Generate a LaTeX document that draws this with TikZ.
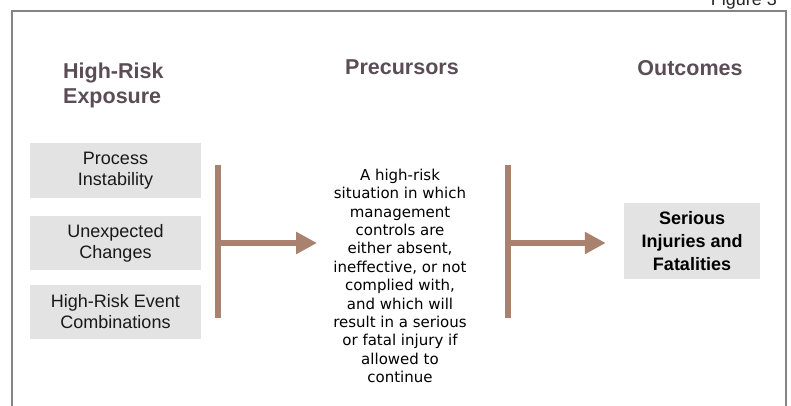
\documentclass[tikz,border=0pt]{standalone}
\usepackage{fontspec}
\setmainfont{Liberation Sans}
\newfontfamily\verdfont{DejaVu Sans}
\usetikzlibrary{arrows.meta}
\definecolor{framegray}{HTML}{858585}
\definecolor{headcol}{HTML}{5B4D55}
\definecolor{boxfill}{HTML}{E3E3E3}
\definecolor{arrowcol}{HTML}{A8826F}
\begin{document}
\begin{tikzpicture}[x=1pt,y=-1pt,
  header/.style={font=\fontsize{21.5}{25}\selectfont\bfseries, text=headcol, inner sep=0},
  riskbox/.style={fill=boxfill, minimum width=171pt, minimum height=54pt, inner sep=0, align=center, text=black!90, font=\fontsize{18}{21}\selectfont},
  outbox/.style={fill=boxfill, minimum width=136pt, minimum height=76pt, inner sep=0, align=center, text=black, font=\fontsize{18}{22.8}\selectfont\bfseries},
  bar/.style={draw=arrowcol, line width=6pt},
  flow/.style={draw=arrowcol, line width=6pt, -{Triangle[length=21pt,width=21pt]}}]
\useasboundingbox (0,0) rectangle (791,406);
\draw[framegray, line width=1.5pt] (12,412) -- (12,11) -- (786,11) -- (786,412);
\node[anchor=base east, font=\fontsize{18}{20}\selectfont, text=black!85, inner sep=0] (fig) at (777,6) {Figure 3};
% headers
\node[header, anchor=west, align=left] (h1) at (63,85) {High-Risk\\Exposure};
\node[header, anchor=base] (h2) at (402,75) {Precursors};
\node[header, anchor=base] (h3) at (690,76) {Outcomes};
% left boxes
\node[riskbox] (b1) at (115.5,170.5) {Process\\Instability};
\node[riskbox] (b2) at (115.5,243) {Unexpected\\Changes};
\node[riskbox] (b3) at (115.5,312) {High-Risk Event\\Combinations};
% center text
\node[align=center, inner sep=0, text=black, font=\verdfont\fontsize{15}{18.4}\selectfont] (p) at (400,276)
  {A high-risk\\situation in which\\management\\controls are\\either absent,\\ineffective, or not\\complied with,\\and which will\\result in a serious\\or fatal injury if\\allowed to\\continue};
% outcome box
\node[outbox] (o) at (692,241) {Serious\\Injuries and\\Fatalities};
% left bar and arrow
\coordinate (lt) at (218,165);
\coordinate (lb) at (218,318);
\coordinate (lm) at (218,243);
\draw[bar] (lt) -- (lb);
\draw[flow, shorten >=16pt] (lm) -- (lm -| p.west);
% right bar and arrow
\coordinate (rt) at (508,165);
\coordinate (rb) at (508,318);
\coordinate (rm) at (508,243);
\draw[bar] (rt) -- (rb);
\draw[flow, shorten >=18pt] (rm) -- (rm -| o.west);
\end{tikzpicture}
\end{document}
